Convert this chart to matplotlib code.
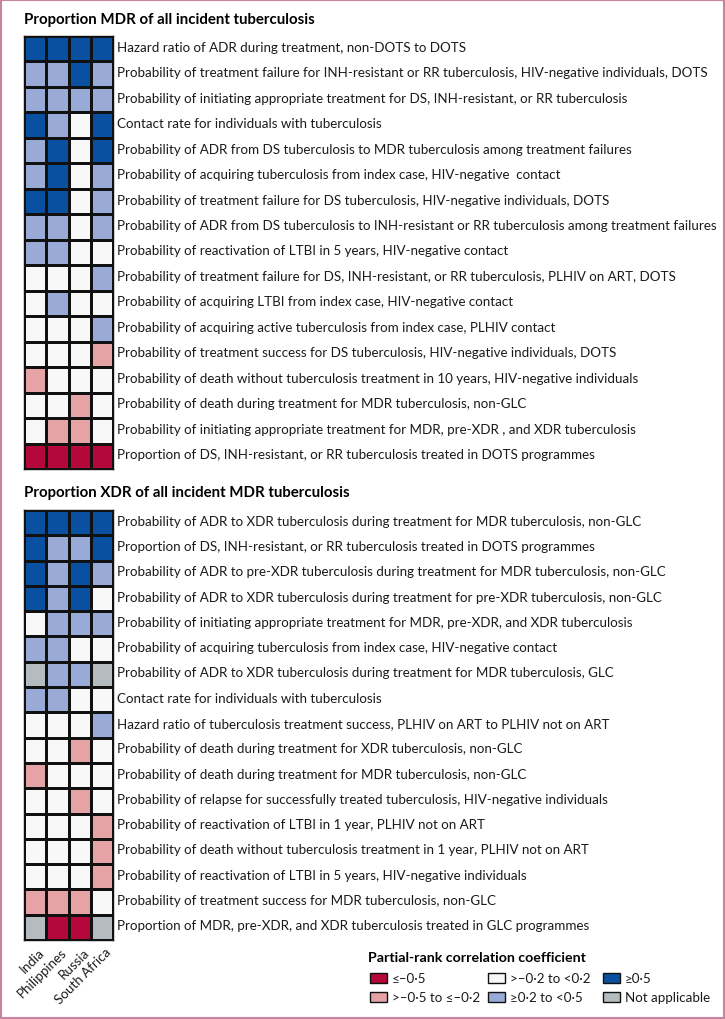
import matplotlib.pyplot as plt
import numpy as np
from matplotlib.colors import ListedColormap
from matplotlib.patches import Rectangle

countries = ['India', 'Philippines', 'Russia', 'South Africa']

# category codes: 0 <=-0.5, 1 >-0.5 to <=-0.2, 2 >-0.2 to <0.2, 3 >=0.2 to <0.5, 4 >=0.5, 5 not applicable
mdr_labels = [
    'Hazard ratio of ADR during treatment, non-DOTS to DOTS',
    'Probability of treatment failure for INH-resistant or RR tuberculosis, HIV-negative individuals, DOTS',
    'Probability of initiating appropriate treatment for DS, INH-resistant, or RR tuberculosis',
    'Contact rate for individuals with tuberculosis',
    'Probability of ADR from DS tuberculosis to MDR tuberculosis among treatment failures',
    'Probability of acquiring tuberculosis from index case, HIV-negative  contact',
    'Probability of treatment failure for DS tuberculosis, HIV-negative individuals, DOTS',
    'Probability of ADR from DS tuberculosis to INH-resistant or RR tuberculosis among treatment failures',
    'Probability of reactivation of LTBI in 5 years, HIV-negative contact',
    'Probability of treatment failure for DS, INH-resistant, or RR tuberculosis, PLHIV on ART, DOTS',
    'Probability of acquiring LTBI from index case, HIV-negative contact',
    'Probability of acquiring active tuberculosis from index case, PLHIV contact',
    'Probability of treatment success for DS tuberculosis, HIV-negative individuals, DOTS',
    'Probability of death without tuberculosis treatment in 10 years, HIV-negative individuals',
    'Probability of death during treatment for MDR tuberculosis, non-GLC',
    'Probability of initiating appropriate treatment for MDR, pre-XDR , and XDR tuberculosis',
    'Proportion of DS, INH-resistant, or RR tuberculosis treated in DOTS programmes',
]
mdr_cats = [
    [4, 4, 4, 4],
    [3, 3, 4, 3],
    [3, 3, 3, 3],
    [4, 3, 2, 4],
    [3, 4, 2, 4],
    [3, 4, 2, 3],
    [4, 4, 2, 3],
    [3, 3, 2, 3],
    [3, 3, 2, 2],
    [2, 2, 2, 3],
    [2, 3, 2, 2],
    [2, 2, 2, 3],
    [2, 2, 2, 1],
    [1, 2, 2, 2],
    [2, 2, 1, 2],
    [2, 1, 1, 2],
    [0, 0, 0, 0],
]

xdr_labels = [
    'Probability of ADR to XDR tuberculosis during treatment for MDR tuberculosis, non-GLC',
    'Proportion of DS, INH-resistant, or RR tuberculosis treated in DOTS programmes',
    'Probability of ADR to pre-XDR tuberculosis during treatment for MDR tuberculosis, non-GLC',
    'Probability of ADR to XDR tuberculosis during treatment for pre-XDR tuberculosis, non-GLC',
    'Probability of initiating appropriate treatment for MDR, pre-XDR, and XDR tuberculosis',
    'Probability of acquiring tuberculosis from index case, HIV-negative contact',
    'Probability of ADR to XDR tuberculosis during treatment for MDR tuberculosis, GLC',
    'Contact rate for individuals with tuberculosis',
    'Hazard ratio of tuberculosis treatment success, PLHIV on ART to PLHIV not on ART',
    'Probability of death during treatment for XDR tuberculosis, non-GLC',
    'Probability of death during treatment for MDR tuberculosis, non-GLC',
    'Probability of relapse for successfully treated tuberculosis, HIV-negative individuals',
    'Probability of reactivation of LTBI in 1 year, PLHIV not on ART',
    'Probability of death without tuberculosis treatment in 1 year, PLHIV not on ART',
    'Probability of reactivation of LTBI in 5 years, HIV-negative individuals',
    'Probability of treatment success for MDR tuberculosis, non-GLC',
    'Proportion of MDR, pre-XDR, and XDR tuberculosis treated in GLC programmes',
]
xdr_cats = [
    [4, 4, 4, 4],
    [4, 3, 3, 4],
    [4, 3, 4, 3],
    [4, 3, 4, 2],
    [2, 3, 3, 3],
    [3, 3, 2, 2],
    [5, 3, 3, 5],
    [3, 3, 2, 2],
    [2, 2, 2, 3],
    [2, 2, 1, 2],
    [1, 2, 2, 2],
    [2, 2, 1, 2],
    [2, 2, 2, 1],
    [2, 2, 2, 1],
    [2, 2, 2, 1],
    [1, 1, 1, 2],
    [5, 0, 0, 5],
]

legend_labels = ['≤–0·5', '>–0·5 to ≤–0·2', '>–0·2 to <0·2', '≥0·2 to <0·5', '≥0·5', 'Not applicable']
colors = ['#b5083a', '#e6a3a6', '#f8f8f8', '#9aaad6', '#0a50a0', '#b4bcc0']
cmap = ListedColormap(colors)

plt.rcParams['font.family'] = ['Lato', 'DejaVu Sans']
W, H = 725, 1020
FS = 9.6
fig = plt.figure(figsize=(W / 100, H / 100), dpi=100)


def panel(top, bottom, cats, labels):
    ax = fig.add_axes([24 / W, 1 - bottom / H, 89 / W, (bottom - top) / H])
    data = np.array(cats)
    n, m = data.shape
    ax.pcolormesh(data, cmap=cmap, vmin=-0.5, vmax=5.5, edgecolors='#111111', linewidth=1.0)
    ax.set_xlim(0, m)
    ax.set_ylim(n, 0)
    ax.set_xticks([])
    ax.set_yticks([])
    for s in ax.spines.values():
        s.set_linewidth(1.0)
        s.set_color('#111111')
    for i, lab in enumerate(labels):
        ax.text(m + 0.2, i + 0.42, lab, fontsize=FS, va='center', ha='left', color='#1a1a1a')
    return ax


fig.text(24 / W, 1 - 20 / H, 'Proportion MDR of all incident tuberculosis', fontsize=10.8,
         fontweight='bold', va='center', ha='left')
panel(37, 470, mdr_cats, mdr_labels)

fig.text(24 / W, 1 - 493 / H, 'Proportion XDR of all incident MDR tuberculosis', fontsize=10.8,
         fontweight='bold', va='center', ha='left')
ax2 = panel(511, 941, xdr_cats, xdr_labels)
for j, c in enumerate(countries):
    ax2.text(j + 0.65, 17.2, c, rotation=45, ha='right', va='top', fontsize=FS,
             rotation_mode='anchor', color='#1a1a1a')

# legend
fig.text(368 / W, 1 - 958 / H, 'Partial-rank correlation coefficient', fontsize=10.2,
         fontweight='bold', va='center', ha='left')
cols_x = [370, 488, 603]
rows_y = [979, 998]
for k, lab in enumerate(legend_labels):
    x = cols_x[k // 2]
    y = rows_y[k % 2]
    fig.patches.append(Rectangle((x / W, 1 - (y + 5) / H), 17 / W, 10 / H, transform=fig.transFigure,
                                 facecolor=colors[k], edgecolor='#111111', linewidth=1.0))
    fig.text((x + 22) / W, 1 - y / H, lab, fontsize=FS, va='center', ha='left', color='#1a1a1a')

fig.patches.append(Rectangle((0.001, 0.001), 0.998, 0.998, transform=fig.transFigure,
                             facecolor='none', edgecolor='#c8849c', linewidth=1.5))

fig.savefig('out.png', dpi=100)
